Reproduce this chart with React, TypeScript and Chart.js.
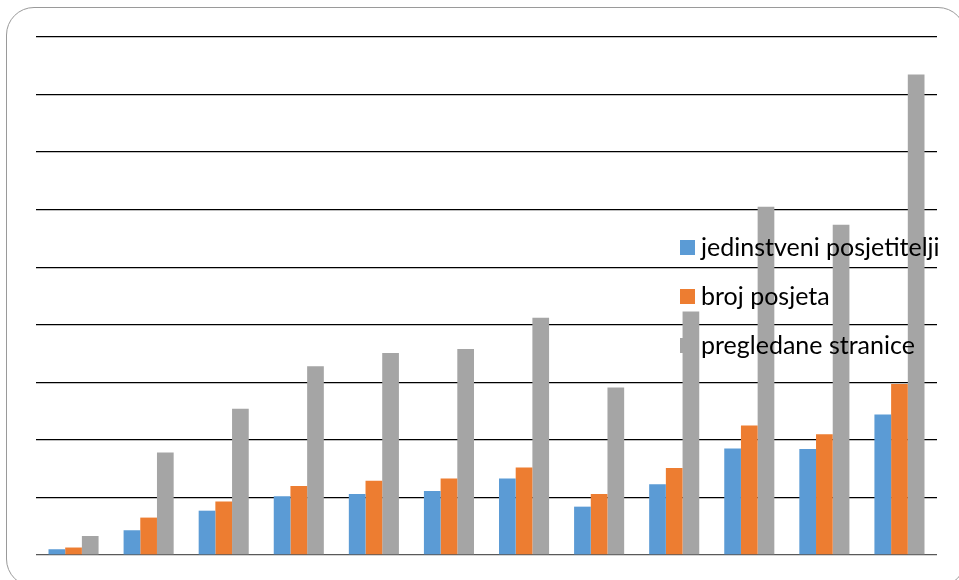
import React, { useEffect, useRef } from "react";
import { Chart, registerables } from "chart.js";

Chart.register(...registerables);

const categories = ["1", "2", "3", "4", "5", "6", "7", "8", "9", "10", "11", "12"];
const jedinstveni = [10, 43, 77, 102, 106, 111, 133, 84, 123, 185, 184, 244];
const brojPosjeta = [13, 65, 93, 120, 129, 133, 152, 106, 151, 225, 210, 297];
const pregledane = [33, 178, 254, 328, 351, 358, 412, 291, 423, 605, 574, 835];
const seriesLabels = ["jedinstveni posjetitelji", "broj posjeta", "pregledane stranice"];
const seriesColors = ["#5B9BD5", "#ED7D31", "#A5A5A5"];

const overlayLegend = {
  id: "overlayLegend",
  afterDatasetsDraw(chart: any) {
    const ctx = chart.ctx;
    const x0 = 680;
    const ys = [247, 296, 345];
    ctx.save();
    ctx.font = "25px Lato, 'Liberation Sans', sans-serif";
    ctx.textBaseline = "middle";
    chart.data.datasets.forEach((ds: any, i: number) => {
      ctx.fillStyle = ds.backgroundColor;
      ctx.fillRect(x0, ys[i] - 7, 15, 15);
      ctx.fillStyle = "#000000";
      ctx.fillText(ds.label, x0 + 21, ys[i] + 1);
    });
    ctx.restore();
  },
};

export default function App() {
  const ref = useRef<HTMLCanvasElement | null>(null);

  useEffect(() => {
    document.body.style.margin = "0";
    const canvas = ref.current;
    if (!canvas) return;
    const data = [jedinstveni, brojPosjeta, pregledane];
    const chart = new Chart(canvas, {
      type: "bar",
      data: {
        labels: categories,
        datasets: seriesLabels.map((label, i) => ({
          label,
          data: data[i],
          backgroundColor: seriesColors[i],
          borderWidth: 0,
        })),
      },
      options: {
        animation: false,
        responsive: false,
        maintainAspectRatio: false,
        layout: { padding: { left: 36, top: 37, right: 22, bottom: 25 } },
        datasets: {
          bar: { barPercentage: 1, categoryPercentage: 0.667 },
        },
        plugins: {
          legend: { display: false },
          tooltip: { enabled: false },
        },
        scales: {
          x: { display: false },
          y: {
            min: 0,
            max: 900,
            ticks: { display: false, stepSize: 100 },
            grid: {
              drawTicks: false,
              lineWidth: 1.3,
              color: (c: any) => (c.tick && c.tick.value === 0 ? "#595959" : "#000000"),
            },
            border: { display: false },
          },
        },
      },
      plugins: [overlayLegend],
    });
    return () => chart.destroy();
  }, []);

  return (
    <div style={{ position: "relative", width: 959, height: 580, overflow: "hidden", background: "#fff" }}>
      <div
        style={{
          position: "absolute",
          left: 6,
          top: 7,
          width: 960,
          height: 580,
          border: "1px solid #9a9a9a",
          borderRadius: 28,
          boxSizing: "border-box",
        }}
      />
      <canvas ref={ref} width={959} height={580} style={{ position: "absolute", left: 0, top: 0 }} />
    </div>
  );
}
